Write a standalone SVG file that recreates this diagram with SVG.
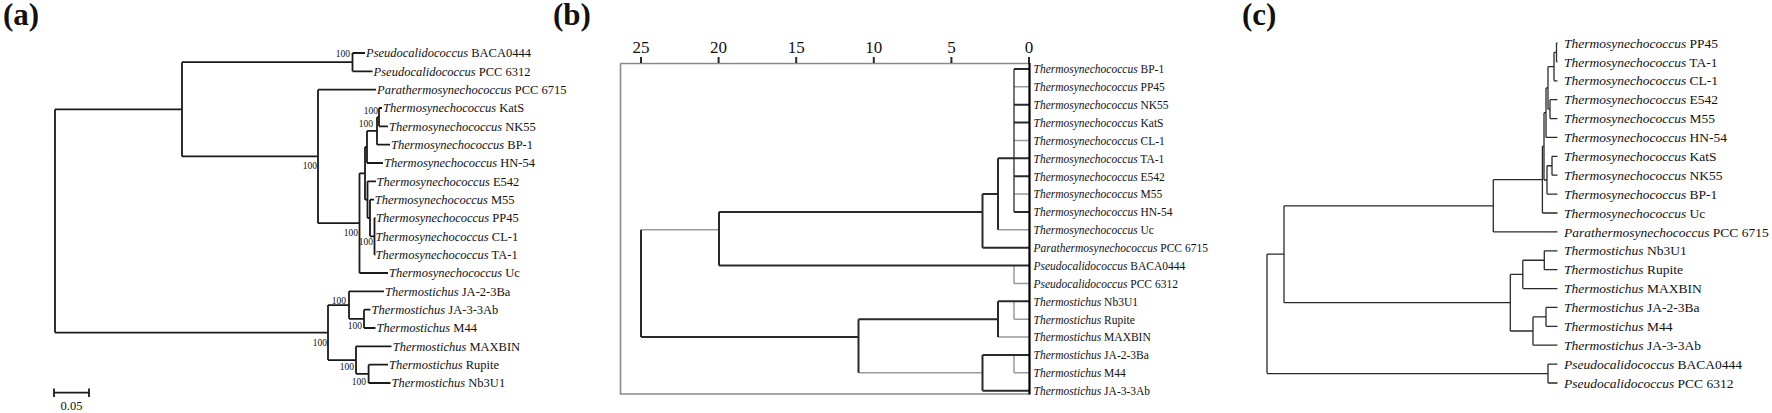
<svg xmlns="http://www.w3.org/2000/svg" width="1772" height="413" viewBox="0 0 1772 413">
<style>
text { font-family: "Liberation Serif", "Times New Roman", serif; fill: #111; }
.it { font-style: italic; }
.a { font-size: 12.5px; }
.b { font-size: 11.5px; }
.c { font-size: 13.5px; }
.bs { font-size: 9.5px; text-anchor: end; }
.pl { font-size: 31px; font-weight: bold; }
.ax { font-size: 17px; text-anchor: middle; }
.ln { stroke: #1a1a1a; stroke-width: 1.8; fill: none; }
.lc { stroke: #2a2a2a; stroke-width: 1.3; fill: none; }
.dk { stroke: #2a2a2a; stroke-width: 2; fill: none; }
.gy { stroke: #9a9a9a; stroke-width: 1.5; fill: none; }
.fr { stroke: #8a8a8a; stroke-width: 1.6; fill: none; }
</style>
<rect width="1772" height="413" fill="#fff"/>

<g id="panel-labels">
<text class="pl" x="3" y="25">(a)</text>
<text class="pl" x="553" y="25">(b)</text>
<text class="pl" x="1242" y="25">(c)</text>
</g>

<!-- ========== Panel (a) ========== -->
<g id="a-connectors">
<path class="ln" d="M55,109.3 V332.6 M55,109.3 H182 M182,62.17 V156.4 M182,62.17 H352.5
M352.5,53 V71.33 M352.5,53 H365 M352.5,71.33 H372.5
M182,156.4 H318 M318,89.67 V223.2 M318,89.67 H376 M318,223.2 H359.5
M359.5,173.3 V273 M359.5,273 H388 M359.5,173.3 H365
M365,146.96 V199.67 M365,146.96 H367 M365,199.67 H367.5
M367,130.92 V163 M367,163 H383 M367,130.92 H377
M377,117.17 V144.67 M377,144.67 H390 M377,117.17 H379
M379,108 V126.33 M379,108 H382 M379,126.33 H388
M367.5,181.33 V218 M367.5,181.33 H376 M367.5,218 H370
M370,199.67 V236.33 M370,199.67 H374 M370,236.33 H374.5
M374.5,218 V254.67 M374.5,218 H375.5 M374.5,254.67 H375.5
M55,332.6 H328 M328,305.1 V360.08 M328,305.1 H349 M328,360.08 H356
M349,291.33 V318.83 M349,291.33 H384 M349,318.83 H364
M364,309.67 V328 M364,309.67 H370.5 M364,328 H375.5
M356,346.33 V373.83 M356,346.33 H391.5 M356,373.83 H368.6
M368.6,364.67 V383 M368.6,364.67 H388 M368.6,383 H390.5"/>
<path class="ln" d="M54,392.7 H89 M54,388.5 V397 M89,388.5 V397"/>
</g>
<g id="a-bootstrap">
<text class="bs" x="350" y="57">100</text>
<text class="bs" x="317" y="168.8">100</text>
<text class="bs" x="378" y="113.5">100</text>
<text class="bs" x="373" y="127">100</text>
<text class="bs" x="373" y="244.8">100</text>
<text class="bs" x="358" y="235.5">100</text>
<text class="bs" x="327" y="346">100</text>
<text class="bs" x="346" y="303.5">100</text>
<text class="bs" x="362" y="328.8">100</text>
<text class="bs" x="354" y="370">100</text>
<text class="bs" x="366" y="384.6">100</text>
</g>
<g id="a-scale"><text class="a" x="71.5" y="409.5" text-anchor="middle">0.05</text></g>
<g id="a-leaves" class="a">
<g id="a-BACA0444"><text x="366" y="57.3"><tspan class="it">Pseudocalidococcus</tspan> BACA0444</text></g>
<g id="a-PCC6312"><text x="373.6" y="75.6"><tspan class="it">Pseudocalidococcus</tspan> PCC 6312</text></g>
<g id="a-PCC6715"><text x="377" y="94"><tspan class="it">Parathermosynechococcus</tspan> PCC 6715</text></g>
<g id="a-KatS"><text x="383" y="112.3"><tspan class="it">Thermosynechococcus</tspan> KatS</text></g>
<g id="a-NK55"><text x="389" y="130.6"><tspan class="it">Thermosynechococcus</tspan> NK55</text></g>
<g id="a-BP-1"><text x="391" y="149"><tspan class="it">Thermosynechococcus</tspan> BP-1</text></g>
<g id="a-HN-54"><text x="384" y="167.3"><tspan class="it">Thermosynechococcus</tspan> HN-54</text></g>
<g id="a-E542"><text x="376.6" y="185.6"><tspan class="it">Thermosynechococcus</tspan> E542</text></g>
<g id="a-M55"><text x="374.7" y="204"><tspan class="it">Thermosynechococcus</tspan> M55</text></g>
<g id="a-PP45"><text x="376" y="222.3"><tspan class="it">Thermosynechococcus</tspan> PP45</text></g>
<g id="a-CL-1"><text x="375.5" y="240.6"><tspan class="it">Thermosynechococcus</tspan> CL-1</text></g>
<g id="a-TA-1"><text x="375.5" y="259"><tspan class="it">Thermosynechococcus</tspan> TA-1</text></g>
<g id="a-Uc"><text x="389" y="277.3"><tspan class="it">Thermosynechococcus</tspan> Uc</text></g>
<g id="a-JA-2-3Ba"><text x="385" y="295.6"><tspan class="it">Thermostichus</tspan> JA-2-3Ba</text></g>
<g id="a-JA-3-3Ab"><text x="371.6" y="314"><tspan class="it">Thermostichus</tspan> JA-3-3Ab</text></g>
<g id="a-M44"><text x="376.6" y="332.3"><tspan class="it">Thermostichus</tspan> M44</text></g>
<g id="a-MAXBIN"><text x="392.7" y="350.6"><tspan class="it">Thermostichus</tspan> MAXBIN</text></g>
<g id="a-Rupite"><text x="389" y="369"><tspan class="it">Thermostichus</tspan> Rupite</text></g>
<g id="a-Nb3U1"><text x="391.6" y="387.3"><tspan class="it">Thermostichus</tspan> Nb3U1</text></g>
</g>

<!-- ========== Panel (b) ========== -->
<g id="b-axis">
<path class="fr" d="M620.5,63.5 H1029.5 M620.5,63.5 V394 H1029.5"/>
<path class="dk" d="M641,57 V63 M718.6,57 V63 M796.2,57 V63 M873.8,57 V63 M951.4,57 V63 M1029,57 V63"/>
<text class="ax" x="641" y="52.7">25</text>
<text class="ax" x="718.6" y="52.7">20</text>
<text class="ax" x="796.2" y="52.7">15</text>
<text class="ax" x="873.8" y="52.7">10</text>
<text class="ax" x="951.4" y="52.7">5</text>
<text class="ax" x="1029" y="52.7">0</text>
</g>
<g id="b-connectors">
<path class="gy" d="M1014,86.87 H1029.5 M1014,140.48 H1029.5 M1014,194.09 H1029.5 M998,229.83 H1029.5
M1014,265.57 V283.44 M1014,283.44 H1029.5 M641,229.83 H719
M1014,301.31 V319.18 M1014,319.18 H1029.5 M998,337.05 H1029.5
M1014,354.92 V372.79 M1014,372.79 H1029.5 M858.5,372.79 H982.5"/>
<path class="lc" d="M1014,69 V211.96"/>
<path class="dk" d="M1014,69 H1029.5 M1014,104.74 H1029.5 M1014,122.61 H1029.5 M998,158.35 H1029.5 M1014,176.22 H1029.5 M1014,211.96 H1029.5
M998,158.35 V229.83 M982.5,194.09 H998 M982.5,194.09 V247.7 M982.5,247.7 H1029.5
M719,211.96 H982.5 M719,211.96 V265.57 M719,265.57 H1029.5
M641,229.83 V337.05 M641,337.05 H858.5 M858.5,319.18 V372.79 M858.5,319.18 H998
M998,301.31 V337.05 M998,301.31 H1029.5
M982.5,354.92 V390.66 M982.5,354.92 H1029.5 M982.5,390.66 H1029.5"/>
<path d="M1029.5,63 V394.5" stroke="#000" stroke-width="2.2" fill="none"/>
</g>
<g id="b-leaves" class="b">
<g id="b-BP-1"><text x="1033.5" y="73.3"><tspan class="it">Thermosynechococcus</tspan> BP-1</text></g>
<g id="b-PP45"><text x="1033.5" y="91.2"><tspan class="it">Thermosynechococcus</tspan> PP45</text></g>
<g id="b-NK55"><text x="1033.5" y="109"><tspan class="it">Thermosynechococcus</tspan> NK55</text></g>
<g id="b-KatS"><text x="1033.5" y="126.9"><tspan class="it">Thermosynechococcus</tspan> KatS</text></g>
<g id="b-CL-1"><text x="1033.5" y="144.8"><tspan class="it">Thermosynechococcus</tspan> CL-1</text></g>
<g id="b-TA-1"><text x="1033.5" y="162.7"><tspan class="it">Thermosynechococcus</tspan> TA-1</text></g>
<g id="b-E542"><text x="1033.5" y="180.5"><tspan class="it">Thermosynechococcus</tspan> E542</text></g>
<g id="b-M55"><text x="1033.5" y="198.4"><tspan class="it">Thermosynechococcus</tspan> M55</text></g>
<g id="b-HN-54"><text x="1033.5" y="216.3"><tspan class="it">Thermosynechococcus</tspan> HN-54</text></g>
<g id="b-Uc"><text x="1033.5" y="234.1"><tspan class="it">Thermosynechococcus</tspan> Uc</text></g>
<g id="b-PCC6715"><text x="1033.5" y="252"><tspan class="it">Parathermosynechococcus</tspan> PCC 6715</text></g>
<g id="b-BACA0444"><text x="1033.5" y="269.9"><tspan class="it">Pseudocalidococcus</tspan> BACA0444</text></g>
<g id="b-PCC6312"><text x="1033.5" y="287.7"><tspan class="it">Pseudocalidococcus</tspan> PCC 6312</text></g>
<g id="b-Nb3U1"><text x="1033.5" y="305.6"><tspan class="it">Thermostichus</tspan> Nb3U1</text></g>
<g id="b-Rupite"><text x="1033.5" y="323.5"><tspan class="it">Thermostichus</tspan> Rupite</text></g>
<g id="b-MAXBIN"><text x="1033.5" y="341.4"><tspan class="it">Thermostichus</tspan> MAXBIN</text></g>
<g id="b-JA-2-3Ba"><text x="1033.5" y="359.2"><tspan class="it">Thermostichus</tspan> JA-2-3Ba</text></g>
<g id="b-M44"><text x="1033.5" y="377.1"><tspan class="it">Thermostichus</tspan> M44</text></g>
<g id="b-JA-3-3Ab"><text x="1033.5" y="395"><tspan class="it">Thermostichus</tspan> JA-3-3Ab</text></g>
</g>

<!-- ========== Panel (c) ========== -->
<g id="c-connectors">
<path class="lc" d="M1267,254.2 V373.6 M1267,254.2 H1284 M1267,373.6 H1548
M1548,364.1 V383 M1548,364.1 H1557.5 M1548,383 H1557.5
M1284,205.8 V302.7 M1284,205.8 H1493.3 M1284,302.7 H1510.3
M1493.3,179.7 V231.9 M1493.3,231.9 H1557.5 M1493.3,179.7 H1542.4
M1542.4,146.3 V213 M1542.4,213 H1557.5 M1542.4,146.3 H1544
M1544,112.7 V180 M1544,112.7 H1546 M1544,180 H1547
M1547,165.75 V194.1 M1547,194.1 H1557.5 M1547,165.75 H1552
M1552,156.3 V175.2 M1552,156.3 H1557.5 M1552,175.2 H1557.5
M1546,87.9 V137.4 M1546,137.4 H1557.5 M1546,87.9 H1548
M1548,66.6 V109.2 M1548,66.6 H1554 M1548,109.2 H1550
M1550,99.7 V118.6 M1550,99.7 H1557.5 M1550,118.6 H1557.5
M1554,52.45 V80.8 M1554,80.8 H1557.5 M1554,52.45 H1556.5
M1556.5,43 V61.9 M1556.5,43 H1557.5 M1556.5,61.9 H1557.5
M1510.3,274.4 V331 M1510.3,274.4 H1522.8 M1510.3,331 H1533
M1522.8,260.25 V288.6 M1522.8,288.6 H1557.5 M1522.8,260.25 H1544.3
M1544.3,250.8 V269.7 M1544.3,250.8 H1557.5 M1544.3,269.7 H1557.5
M1533,316.85 V345.2 M1533,345.2 H1557.5 M1533,316.85 H1546
M1546,307.4 V326.3 M1546,307.4 H1557.5 M1546,326.3 H1557.5"/>
</g>
<g id="c-leaves" class="c">
<g id="c-PP45"><text x="1564" y="47.6"><tspan class="it">Thermosynechococcus</tspan> PP45</text></g>
<g id="c-TA-1"><text x="1564" y="66.5"><tspan class="it">Thermosynechococcus</tspan> TA-1</text></g>
<g id="c-CL-1"><text x="1564" y="85.4"><tspan class="it">Thermosynechococcus</tspan> CL-1</text></g>
<g id="c-E542"><text x="1564" y="104.3"><tspan class="it">Thermosynechococcus</tspan> E542</text></g>
<g id="c-M55"><text x="1564" y="123.2"><tspan class="it">Thermosynechococcus</tspan> M55</text></g>
<g id="c-HN-54"><text x="1564" y="142"><tspan class="it">Thermosynechococcus</tspan> HN-54</text></g>
<g id="c-KatS"><text x="1564" y="160.9"><tspan class="it">Thermosynechococcus</tspan> KatS</text></g>
<g id="c-NK55"><text x="1564" y="179.8"><tspan class="it">Thermosynechococcus</tspan> NK55</text></g>
<g id="c-BP-1"><text x="1564" y="198.7"><tspan class="it">Thermosynechococcus</tspan> BP-1</text></g>
<g id="c-Uc"><text x="1564" y="217.6"><tspan class="it">Thermosynechococcus</tspan> Uc</text></g>
<g id="c-PCC6715"><text x="1564" y="236.5"><tspan class="it">Parathermosynechococcus</tspan> PCC 6715</text></g>
<g id="c-Nb3U1"><text x="1564" y="255.4"><tspan class="it">Thermostichus</tspan> Nb3U1</text></g>
<g id="c-Rupite"><text x="1564" y="274.3"><tspan class="it">Thermostichus</tspan> Rupite</text></g>
<g id="c-MAXBIN"><text x="1564" y="293.2"><tspan class="it">Thermostichus</tspan> MAXBIN</text></g>
<g id="c-JA-2-3Ba"><text x="1564" y="312"><tspan class="it">Thermostichus</tspan> JA-2-3Ba</text></g>
<g id="c-M44"><text x="1564" y="330.9"><tspan class="it">Thermostichus</tspan> M44</text></g>
<g id="c-JA-3-3Ab"><text x="1564" y="349.8"><tspan class="it">Thermostichus</tspan> JA-3-3Ab</text></g>
<g id="c-BACA0444"><text x="1564" y="368.7"><tspan class="it">Pseudocalidococcus</tspan> BACA0444</text></g>
<g id="c-PCC6312"><text x="1564" y="387.6"><tspan class="it">Pseudocalidococcus</tspan> PCC 6312</text></g>
</g>
</svg>
